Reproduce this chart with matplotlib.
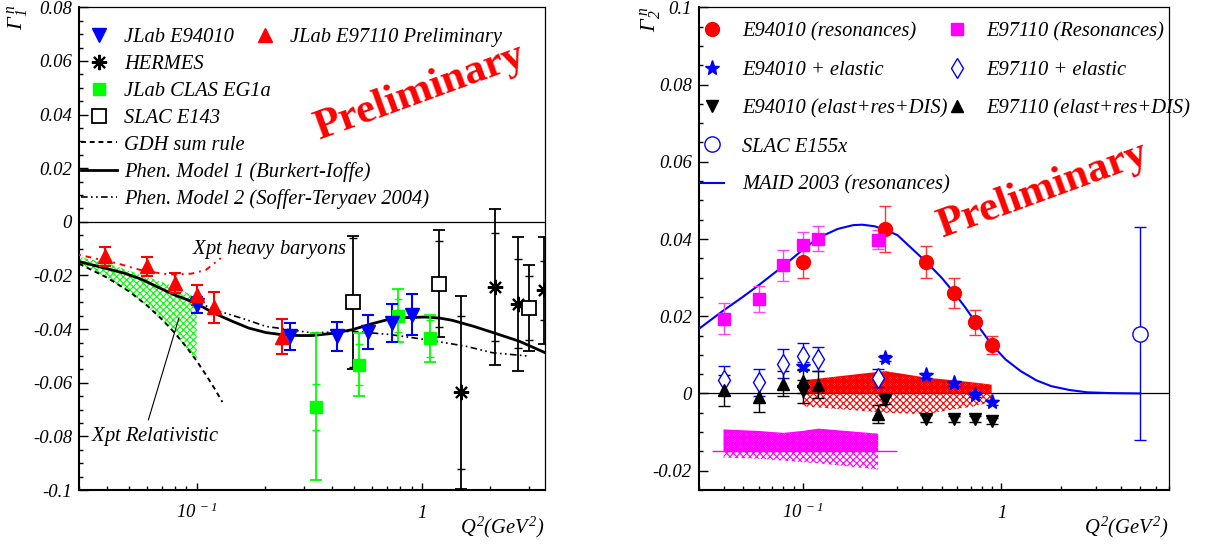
import matplotlib
matplotlib.use("Agg")
import matplotlib.pyplot as plt
from matplotlib.ticker import FixedLocator, FixedFormatter, LogLocator, NullFormatter
import numpy as np

plt.rcParams['font.family'] = ['Liberation Serif', 'DejaVu Serif']
plt.rcParams['font.style'] = 'italic'
plt.rcParams['mathtext.fontset'] = 'custom'
plt.rcParams['mathtext.rm'] = 'Liberation Serif:italic'
plt.rcParams['mathtext.it'] = 'Liberation Serif:italic'
plt.rcParams['mathtext.sf'] = 'Liberation Serif'
plt.rcParams['hatch.linewidth'] = 0.8

# ---------------- left panel: Gamma_1^n ----------------
e94_q2 = [0.1, 0.26, 0.42, 0.575, 0.733, 0.90]
e94_g1 = [-0.0309, -0.0427, -0.0427, -0.0412, -0.0377, -0.0346]
e94_err = [0.003, 0.005, 0.0054, 0.0063, 0.007, 0.0077]

e97_q2 = [0.039, 0.060, 0.080, 0.100, 0.119, 0.239]
e97_g1 = [-0.0129, -0.0166, -0.0228, -0.0272, -0.0319, -0.0429]
e97_err = [0.0035, 0.0035, 0.0037, 0.0038, 0.0058, 0.0065]

hermes_q2 = [1.49, 2.10, 2.66, 3.47]
hermes_g1 = [-0.0635, -0.0243, -0.0305, -0.0256]
hermes_tot = [0.036, 0.029, 0.025, 0.020]
hermes_stat = [0.0285, 0.020, 0.0166, 0.011]

clas_q2 = [0.338, 0.526, 0.785, 1.09]
clas_g1 = [-0.0689, -0.0532, -0.035, -0.0435]
clas_tot = [0.0275, 0.0117, 0.0098, 0.0089]
clas_stat = [0.0086, 0.0077, 0.0062, 0.0068]

slac_q2 = [0.495, 1.19, 2.98]
slac_g1 = [-0.030, -0.0231, -0.0321]
slac_tot = [0.0248, 0.020, 0.016]
slac_stat = [0.024, 0.016, 0.012]

gdh_q2 = [0.03, 0.04, 0.05, 0.06, 0.07, 0.08, 0.09, 0.10, 0.11, 0.12, 0.13]
gdh_g1 = [-0.0156, -0.0208, -0.0259, -0.0311, -0.0363, -0.0415, -0.0467, -0.0519, -0.0571, -0.0622, -0.0672]

rel_q2 = [0.03, 0.04, 0.0564, 0.0793, 0.1]
rel_hi = [-0.0130, -0.0154, -0.0197, -0.0240, -0.0284]
rel_lo = [-0.0156, -0.0208, -0.0293, -0.0412, -0.0519]

pm1_q2 = [0.03, 0.0475, 0.0564, 0.0793, 0.0973, 0.119, 0.144, 0.17, 0.203, 0.24, 0.285, 0.325,
          0.4, 0.491, 0.6, 0.716, 0.85, 1.04, 1.2, 1.36, 1.7, 2.05, 2.70, 3.5]
pm1_g1 = [-0.0148, -0.0191, -0.0213, -0.0272, -0.0300, -0.0340, -0.0371, -0.0396, -0.0413, -0.0421, -0.0424, -0.0424,
          -0.0416, -0.0402, -0.0380, -0.0363, -0.0357, -0.0355, -0.0359, -0.0367, -0.0390, -0.0412, -0.0445, -0.0487]

pm2_q2 = [0.1, 0.119, 0.162, 0.203, 0.268, 0.325, 0.491, 0.716, 1.04, 1.57, 2.05, 3.0]
pm2_g1 = [-0.0297, -0.0327, -0.0362, -0.0390, -0.0404, -0.0414, -0.0408, -0.0420, -0.0439, -0.0464, -0.0488, -0.0501]

hb_q2 = [0.03, 0.044, 0.056, 0.07, 0.08, 0.095, 0.11, 0.128]
hb_g1 = [-0.0123, -0.0154, -0.0179, -0.0193, -0.0197, -0.0193, -0.0179, -0.0135]

ylab_L = ['-0.1', '-0.08', '-0.06', '-0.04', '-0.02', '0', '0.02', '0.04', '0.06', '0.08']
yval_L = [-0.1, -0.08, -0.06, -0.04, -0.02, 0.0, 0.02, 0.04, 0.06, 0.08]

# ---------------- right panel: Gamma_2^n ----------------
r94_q2 = [0.1, 0.26, 0.42, 0.577, 0.741, 0.894]
r94_g2 = [0.0341, 0.0426, 0.034, 0.0261, 0.0184, 0.0125]
r94_err = [0.0042, 0.006, 0.0042, 0.0039, 0.0033, 0.0024]
el94_g2 = [0.0071, 0.0092, 0.0047, 0.0026, -0.0003, -0.0023]
el94_err = [0.001, 0.0008, 0.0007, 0.0006, 0.0006, 0.0006]
dis94_g2 = [0.0006, -0.0016, -0.0065, -0.0067, -0.0067, -0.0072]
dis94_err = [0.003, 0.001, 0.001, 0.0008, 0.0008, 0.0008]

r97_q2 = [0.04, 0.06, 0.08, 0.1, 0.12, 0.24]
r97_g2 = [0.0194, 0.0245, 0.0332, 0.0384, 0.0401, 0.0398]
r97_err = [0.004, 0.0034, 0.004, 0.0035, 0.0032, 0.0025]
el97_g2 = [0.0034, 0.0029, 0.0077, 0.0097, 0.009, 0.0041]
el97_err = [0.0038, 0.0035, 0.0037, 0.0034, 0.0031, 0.0023]
dis97_g2 = [0.0008, -0.0009, 0.0025, 0.0032, 0.0023, -0.0054]
dis97_err = [0.004, 0.0038, 0.0032, 0.003, 0.0034, 0.0023]

e155_q2 = [5.0]
e155_g2 = [0.0155]
e155_err = [0.0276]

maid_q2 = [0.03, 0.04, 0.05, 0.06, 0.07, 0.08, 0.1, 0.12, 0.15, 0.18, 0.2, 0.23, 0.26, 0.3, 0.35,
           0.42, 0.5, 0.58, 0.66, 0.74, 0.82, 0.9, 1.05, 1.25, 1.5, 1.78, 2.2, 2.7, 3.5, 5.0]
maid_g2 = [0.0167, 0.0215, 0.0250, 0.0280, 0.0307, 0.0330, 0.0372, 0.0403, 0.0426, 0.0436, 0.0437, 0.0433,
           0.0424, 0.0410, 0.0378, 0.0340, 0.0300, 0.0260, 0.0222, 0.0185, 0.0153, 0.0125, 0.0088,
           0.0058, 0.0034, 0.0019, 0.0009, 0.0003, 0.0001, 0.0]

band94_q2 = [0.1, 0.26, 0.42, 0.577, 0.741, 0.894]
band94_hi = [0.0034, 0.0058, 0.0041, 0.0034, 0.0028, 0.0023]
band94_lo = [-0.0033, -0.0050, -0.0054, -0.0041, -0.0033, -0.0021]

band97_q2 = [0.04, 0.06, 0.08, 0.1, 0.12, 0.24]
band97_hi = [-0.0093, -0.0097, -0.0102, -0.0097, -0.0091, -0.0104]
band97_lo = [-0.0166, -0.0169, -0.0174, -0.0178, -0.0181, -0.0197]
band97_base = -0.015
band97_span = [0.035, 0.30]

ylab_R = ['-0.02', '0', '0.02', '0.04', '0.06', '0.08', '0.1']
yval_R = [-0.02, 0.0, 0.02, 0.04, 0.06, 0.08, 0.1]

BLUE, RED, GREEN, MAG = '#0000ff', '#ff0000', '#00ff00', '#ff00ff'
FS = 14.8

fig = plt.figure(figsize=(12.09, 5.45), dpi=100)
axL = fig.add_axes([0.0653, 0.1009, 0.3851, 0.8857])
axR = fig.add_axes([0.5779, 0.1009, 0.3893, 0.8857])


def style_axes(ax, xlim, ylim, yvals, ylabs):
    ax.set_xscale('log')
    ax.set_xlim(*xlim)
    ax.set_ylim(*ylim)
    ax.xaxis.set_major_locator(FixedLocator([0.1, 1.0]))
    ax.xaxis.set_major_formatter(FixedFormatter([r'$10^{\ -1}$', r'$1$']))
    ax.xaxis.set_minor_locator(LogLocator(base=10, subs=np.arange(2, 10)))
    ax.xaxis.set_minor_formatter(NullFormatter())
    ax.yaxis.set_major_locator(FixedLocator(yvals))
    ax.yaxis.set_major_formatter(FixedFormatter(ylabs))
    ax.yaxis.set_minor_locator(FixedLocator(np.arange(ylim[0], ylim[1] + 1e-9, 0.005)))
    ax.tick_params(which='both', direction='in', top=False, right=False, labelsize=13.5, width=1.0)
    ax.tick_params(axis='y', which='major', length=6.5, pad=5)
    ax.tick_params(axis='y', which='minor', length=3.2)
    ax.tick_params(axis='x', which='major', length=5, pad=20)
    ax.tick_params(axis='x', which='minor', length=2.8)
    for lab in ax.get_xticklabels():
        lab.set_verticalalignment('baseline')
    for s in ['left', 'bottom']:
        ax.spines[s].set_linewidth(1.5)
    for s in ['top', 'right']:
        ax.spines[s].set_linewidth(0.9)
    ax.axhline(0, color='k', lw=0.9, zorder=1)


style_axes(axL, (0.03, 3.5), (-0.1, 0.08), yval_L, ylab_L)
style_axes(axR, (0.03, 7.0), (-0.025, 0.1), yval_R, ylab_R)

# ---- left panel drawing ----
axL.fill_between(rel_q2, rel_lo, rel_hi, facecolor='none', edgecolor=GREEN, hatch='xxxxx', lw=0, zorder=2)
h_gdh, = axL.plot(gdh_q2, gdh_g1, color='k', ls=(0, (2.5, 2)), lw=1.4, zorder=3)
h_pm1, = axL.plot(pm1_q2, pm1_g1, color='k', ls='-', lw=2.0, zorder=3)
h_pm2, = axL.plot(pm2_q2, pm2_g1, color='k', ls=(0, (4, 2, 1, 2, 1, 2)), lw=1.2, zorder=3)
axL.plot(hb_q2, hb_g1, color=RED, ls=(0, (1, 2.5, 3, 2.5)), lw=1.4, zorder=3)

axL.errorbar(hermes_q2, hermes_g1, yerr=hermes_tot, fmt='none', ecolor='k', elinewidth=1.3, capsize=4, capthick=1.3, zorder=4)
axL.errorbar(hermes_q2, hermes_g1, yerr=hermes_stat, fmt='none', ecolor='k', elinewidth=0, capsize=3, capthick=1.0, zorder=4)
h_hermes, = axL.plot(hermes_q2, hermes_g1, ls='none', marker=(8, 2, 0), ms=11, mec='k', mew=1.5, color='k', zorder=5)

axL.errorbar(slac_q2, slac_g1, yerr=slac_tot, fmt='none', ecolor='k', elinewidth=1.3, capsize=4, capthick=1.3, zorder=4)
axL.errorbar(slac_q2, slac_g1, yerr=slac_stat, fmt='none', ecolor='k', elinewidth=0, capsize=3, capthick=1.0, zorder=4)
h_slac, = axL.plot(slac_q2, slac_g1, ls='none', marker='s', ms=10, mfc='white', mec='k', mew=1.3, zorder=5)

axL.errorbar(clas_q2, clas_g1, yerr=clas_tot, fmt='none', ecolor=GREEN, elinewidth=1.3, capsize=4, capthick=1.3, zorder=4)
axL.errorbar(clas_q2, clas_g1, yerr=clas_stat, fmt='none', ecolor=GREEN, elinewidth=0, capsize=3, capthick=1.0, zorder=4)
h_clas, = axL.plot(clas_q2, clas_g1, ls='none', marker='s', ms=9, color=GREEN, mec=GREEN, zorder=5)

axL.errorbar(e94_q2, e94_g1, yerr=e94_err, fmt='none', ecolor=BLUE, elinewidth=1.5, capsize=4, capthick=1.5, zorder=4)
h_e94, = axL.plot(e94_q2, e94_g1, ls='none', marker='v', ms=10, color=BLUE, mec=BLUE, zorder=5)

axL.errorbar(e97_q2, e97_g1, yerr=e97_err, fmt='none', ecolor=RED, elinewidth=1.5, capsize=4, capthick=1.5, zorder=4)
h_e97, = axL.plot(e97_q2, e97_g1, ls='none', marker='^', ms=10, color=RED, mec=RED, zorder=5)

axL.text(0.095, -0.0105, r'$\mathsf{X}$pt heavy baryons', fontsize=FS, va='center', ha='left')
axL.annotate(r'$\mathsf{X}$pt Relativistic', xy=(0.0834, -0.0358), xytext=(0.0338, -0.0799),
             fontsize=FS, va='center', ha='left',
             arrowprops=dict(arrowstyle='-', color='k', lw=0.8, shrinkA=0, shrinkB=0,
                             relpos=(0.45, 1.2)))

legprops = dict(frameon=False, fontsize=FS, borderpad=0, borderaxespad=0, numpoints=1, loc='upper left')
legA = axL.legend(handles=[h_e94, h_hermes, h_clas, h_slac, h_gdh, h_pm1, h_pm2],
                  labels=['JLab E94010', 'HERMES', 'JLab CLAS EG1a', 'SLAC E143', 'GDH sum rule',
                          'Phen. Model 1 (Burkert-Ioffe)', 'Phen. Model 2 (Soffer-Teryaev 2004)'],
                  bbox_to_anchor=(0.005, 0.957), handlelength=1.75, handletextpad=0.34, labelspacing=0.36,
                  **legprops)
axL.add_artist(legA)
axL.legend(handles=[h_e97], labels=['JLab E97110 Preliminary'], bbox_to_anchor=(0.361, 0.957),
           handlelength=1.75, handletextpad=0.34, **legprops)

# ---- right panel drawing ----
axR.fill_between(band94_q2, 0, band94_hi, facecolor='none', edgecolor=RED, hatch='x' * 14, lw=0, zorder=2)
axR.fill_between(band94_q2, band94_lo, 0, facecolor='none', edgecolor=RED, hatch='xxxxx', lw=0, zorder=2)
axR.fill_between(band97_q2, band97_base, band97_hi, facecolor='none', edgecolor=MAG, hatch='x' * 14, lw=0, zorder=2)
axR.fill_between(band97_q2, band97_lo, band97_base, facecolor='none', edgecolor=MAG, hatch='xxxxx', lw=0, zorder=2)
axR.hlines(band97_base, band97_span[0], band97_span[1], color=MAG, lw=1.0, zorder=2)

h_maid, = axR.plot(maid_q2, maid_g2, color=BLUE, lw=1.5, zorder=3)

axR.errorbar(r94_q2, r94_g2, yerr=r94_err, fmt='none', ecolor='#ff3333', elinewidth=1.0, capsize=4, capthick=1.0, zorder=4)
h_r94, = axR.plot(r94_q2, r94_g2, ls='none', marker='o', ms=10, color=RED, mec=RED, zorder=5)
axR.errorbar(r97_q2, r97_g2, yerr=r97_err, fmt='none', ecolor='#ff44ff', elinewidth=1.0, capsize=4, capthick=1.0, zorder=4)
h_r97, = axR.plot(r97_q2, r97_g2, ls='none', marker='s', ms=9, color=MAG, mec=MAG, zorder=5)

axR.errorbar(r94_q2, el94_g2, yerr=el94_err, fmt='none', ecolor=BLUE, elinewidth=1.0, capsize=4, capthick=1.0, zorder=4)
h_el94, = axR.plot(r94_q2, el94_g2, ls='none', marker='*', ms=11, color=BLUE, mec=BLUE, zorder=5)
axR.errorbar(r97_q2, el97_g2, yerr=el97_err, fmt='none', ecolor=BLUE, elinewidth=1.0, capsize=4, capthick=1.0, zorder=4)
h_el97, = axR.plot(r97_q2, el97_g2, ls='none', marker='d', ms=10, mfc='white', mec=BLUE, mew=1.0, zorder=5)

axR.errorbar(r94_q2, dis94_g2, yerr=dis94_err, fmt='none', ecolor='k', elinewidth=1.0, capsize=4, capthick=1.0, zorder=4)
h_dis94, = axR.plot(r94_q2, dis94_g2, ls='none', marker='v', ms=9, color='k', zorder=5)
axR.errorbar(r97_q2, dis97_g2, yerr=dis97_err, fmt='none', ecolor='k', elinewidth=1.0, capsize=4, capthick=1.0, zorder=4)
h_dis97, = axR.plot(r97_q2, dis97_g2, ls='none', marker='^', ms=9, color='k', zorder=5)

axR.errorbar(e155_q2, e155_g2, yerr=e155_err, fmt='none', ecolor=BLUE, elinewidth=1.0, capsize=4, capthick=1.0, zorder=4)
h_e155, = axR.plot(e155_q2, e155_g2, ls='none', marker='o', ms=11, mfc='white', mec=BLUE, mew=1.0, zorder=5)

legC = axR.legend(handles=[h_r94, h_el94, h_dis94, h_e155, h_maid],
                  labels=['E94010 (resonances)', 'E94010 + elastic', 'E94010 (elast+res+DIS)',
                          'SLAC E155x', 'MAID 2003 (resonances)'],
                  bbox_to_anchor=(0.003, 0.969), handlelength=1.17, handletextpad=0.86, labelspacing=0.92,
                  **legprops)
axR.add_artist(legC)
axR.legend(handles=[h_r97, h_el97, h_dis97],
           labels=['E97110 (Resonances)', 'E97110 + elastic', 'E97110 (elast+res+DIS)'],
           bbox_to_anchor=(0.523, 0.969), handlelength=1.17, handletextpad=0.86, labelspacing=0.92,
           **legprops)

# ---- axis titles and watermark ----
fig.text(18 / 1209, 1 - 4 / 545, r'$\mathsf{\Gamma}_{1}^{\ n}$', rotation=90, fontsize=16, ha='center', va='top')
fig.text(651 / 1209, 1 - 6 / 545, r'$\mathsf{\Gamma}_{2}^{\ n}$', rotation=90, fontsize=16, ha='center', va='top')
fig.text(544 / 1209, 1 - 527 / 545, r'$Q^{2}(GeV^{2})$', fontsize=FS, ha='right', va='center')
fig.text(1168 / 1209, 1 - 527 / 545, r'$Q^{2}(GeV^{2})$', fontsize=FS, ha='right', va='center')

for cx, cy in [(420, 92.5), (1043, 190)]:
    fig.text(cx / 1209, 1 - cy / 545, 'Preliminary', color=RED, fontsize=31, fontweight='bold',
             fontstyle='normal', rotation=20, ha='center', va='center')

fig.savefig('out.png', dpi=100)
